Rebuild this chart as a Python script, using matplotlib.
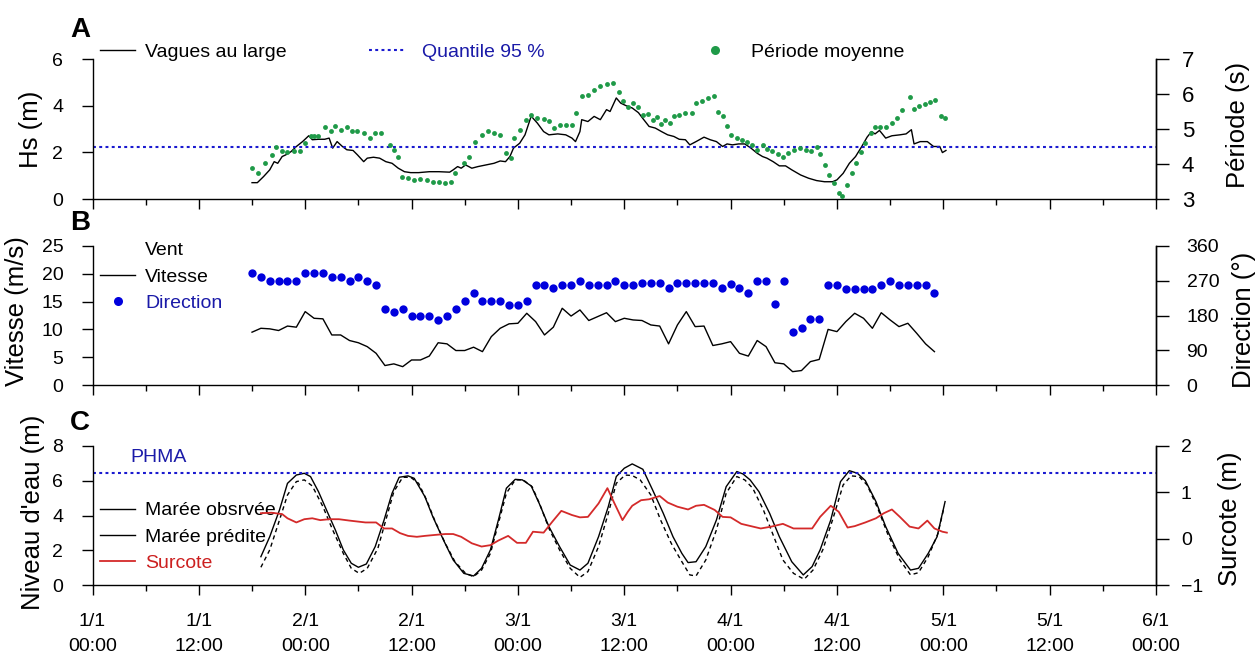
import matplotlib
matplotlib.use("Agg")
import numpy as np
import matplotlib.pyplot as plt
from matplotlib.lines import Line2D
from matplotlib.ticker import MultipleLocator

plt.rcParams['font.family'] = ['Liberation Sans', 'DejaVu Sans']

# ==========================================
# DATA (hours since 1/1 00:00)
# ==========================================
hs_hours = [18.0, 18.6, 19.3, 20.0, 20.5, 20.9, 21.4, 21.8, 22.4, 23.0, 23.7, 24.4, 24.8, 25.5,
            26.2, 26.7, 27.1, 27.6, 28.2, 28.7, 29.4, 29.9, 30.6, 31.0, 31.7, 32.4, 33.1, 33.8,
            34.5, 35.2, 35.9, 36.8, 38.0, 39.1, 40.3, 40.7, 41.2, 41.6, 42.1, 42.8, 43.5, 44.4,
            45.3, 46.0, 46.6, 47.1, 47.5, 48.2, 48.8, 49.5, 50.2, 50.9, 51.5, 52.5, 53.4, 54.1,
            54.5, 55.0, 55.2, 55.9, 56.6, 57.3, 58.0, 58.4, 59.1, 59.6, 60.2, 60.9, 61.6, 62.1,
            62.8, 63.5, 64.2, 64.9, 65.6, 66.2, 66.9, 67.4, 68.1, 69.0, 69.7, 70.4, 71.1, 71.6,
            72.2, 72.9, 73.6, 74.3, 75.0, 75.6, 76.1, 76.8, 77.5, 78.2, 78.9, 79.9, 80.8, 81.7,
            82.6, 83.5, 84.0, 84.7, 85.4, 86.1, 86.8, 87.4, 87.9, 88.3, 88.8, 89.5, 90.2, 91.1,
            91.8, 92.4, 92.7, 93.4, 94.2, 94.9, 95.6, 95.9, 96.3]
hs_values = [0.70, 0.70, 0.96, 1.25, 1.60, 1.53, 1.82, 1.89, 2.03, 2.25, 2.46, 2.71, 2.54, 2.56,
             2.56, 2.61, 2.18, 2.46, 2.25, 2.11, 2.08, 1.89, 1.60, 1.75, 1.79, 1.75, 1.60, 1.53,
             1.32, 1.17, 1.13, 1.13, 1.17, 1.17, 1.15, 1.25, 1.39, 1.32, 1.46, 1.32, 1.39, 1.46,
             1.53, 1.63, 1.60, 1.82, 2.18, 2.39, 2.75, 3.55, 3.25, 2.89, 2.75, 2.79, 2.75, 2.61,
             2.46, 2.89, 3.40, 3.32, 3.54, 3.40, 3.83, 3.75, 4.33, 4.11, 4.00, 3.90, 3.70, 3.45,
             3.11, 3.04, 2.89, 2.75, 2.68, 2.56, 2.54, 2.32, 2.46, 2.65, 2.54, 2.46, 2.25, 2.36,
             2.32, 2.36, 2.36, 2.18, 1.96, 1.82, 1.75, 1.60, 1.42, 1.42, 1.25, 1.03, 0.89, 0.79,
             0.74, 0.74, 0.82, 1.10, 1.53, 1.82, 2.25, 2.65, 2.89, 2.79, 2.94, 2.61, 2.71, 2.75,
             2.79, 2.97, 2.36, 2.46, 2.46, 2.25, 2.25, 1.99, 2.08]
hs_q95 = 2.25

period_hours = [18.0, 18.7, 19.5, 20.2, 20.7, 21.4, 22.0, 22.7, 23.4, 24.0, 24.6, 25.0, 25.5, 26.2,
                26.9, 27.4, 28.0, 28.7, 29.3, 29.9, 30.6, 31.3, 31.9, 32.6, 33.6, 34.0, 34.5, 34.9,
                35.6, 36.3, 37.0, 37.7, 38.4, 39.1, 39.8, 40.5, 40.9, 41.9, 42.5, 43.2, 43.9, 44.6,
                45.3, 46.0, 46.7, 47.2, 47.6, 48.2, 48.9, 49.5, 50.2, 50.9, 51.5, 52.1, 52.7, 53.4,
                54.1, 54.5, 55.2, 55.9, 56.6, 57.3, 58.0, 58.7, 59.4, 59.9, 60.4, 61.0, 61.6, 62.1,
                62.7, 63.2, 63.7, 64.1, 64.6, 65.2, 65.6, 66.2, 66.9, 67.6, 68.1, 68.8, 69.5, 70.1,
                70.6, 71.1, 71.6, 72.1, 72.7, 73.3, 73.8, 74.4, 75.0, 75.6, 76.1, 76.7, 77.3, 77.9,
                78.5, 79.1, 79.8, 80.5, 81.1, 81.7, 82.1, 82.6, 83.1, 83.7, 84.2, 84.6, 85.1, 85.7,
                86.2, 86.7, 87.2, 87.8, 88.3, 88.9, 89.5, 90.2, 90.8, 91.3, 92.2, 92.7, 93.3, 93.9,
                94.5, 95.1, 95.7, 96.2]
period_values = [3.88, 3.75, 4.02, 4.26, 4.50, 4.36, 4.33, 4.36, 4.36, 4.60, 4.79, 4.80, 4.79, 5.07,
                 4.93, 5.09, 4.98, 5.05, 4.93, 4.95, 4.88, 4.74, 4.88, 4.90, 4.55, 4.40, 4.19, 3.64,
                 3.59, 3.54, 3.57, 3.54, 3.50, 3.48, 3.47, 3.50, 3.74, 4.02, 4.21, 4.64, 4.83, 4.93,
                 4.88, 4.83, 4.31, 4.16, 4.74, 4.98, 5.26, 5.41, 5.31, 5.28, 5.24, 5.02, 5.12, 5.12,
                 5.12, 5.45, 5.93, 5.98, 6.12, 6.24, 6.29, 6.31, 6.05, 5.79, 5.64, 5.74, 5.63, 5.41,
                 5.42, 5.26, 5.34, 5.15, 5.26, 5.17, 5.38, 5.41, 5.45, 5.45, 5.74, 5.79, 5.88, 5.93,
                 5.50, 5.36, 5.09, 4.83, 4.74, 4.69, 4.64, 4.55, 4.40, 4.55, 4.42, 4.36, 4.29, 4.21,
                 4.31, 4.40, 4.45, 4.40, 4.36, 4.50, 4.29, 3.97, 3.69, 3.47, 3.18, 3.09, 3.40, 3.74,
                 4.02, 4.33, 4.59, 4.88, 5.05, 5.07, 5.07, 5.17, 5.31, 5.55, 5.91, 5.57, 5.66, 5.72,
                 5.76, 5.82, 5.36, 5.31]

wind_hours = np.arange(18, 96)
wind_speed = [9.5, 10.2, 10.1, 9.8, 10.6, 10.4, 13.2, 12.0, 11.9, 9.0, 9.0, 8.0, 7.6, 6.9,
              5.7, 3.5, 3.8, 3.3, 4.5, 4.5, 5.2, 7.6, 7.4, 6.2, 6.2, 6.8, 6.0, 8.7,
              10.2, 11.0, 11.1, 12.9, 11.4, 9.0, 10.4, 13.8, 12.4, 13.5, 11.6, 12.3, 13.0, 11.4,
              12.0, 11.7, 11.6, 10.8, 10.6, 7.4, 10.8, 13.2, 10.5, 10.6, 7.1, 7.4, 7.8, 5.7,
              5.2, 8.0, 6.9, 4.0, 3.8, 2.4, 2.6, 4.2, 4.6, 10.0, 9.6, 11.4, 12.9, 12.0,
              10.2, 13.0, 11.7, 10.5, 11.1, 9.3, 7.4, 6.0]
wind_dir = [289, 280, 269, 269, 269, 269, 291, 291, 291, 280, 280, 270, 280, 269,
            259, 198, 188, 198, 179, 179, 179, 168, 179, 198, 218, 239, 218, 218,
            218, 207, 207, 218, 259, 259, 250, 259, 259, 269, 259, 259, 259, 269,
            259, 259, 263, 263, 263, 250, 263, 263, 263, 263, 263, 250, 261, 250,
            239, 269, 269, 209, 269, 138, 148, 170, 170, 259, 259, 248, 248, 248,
            248, 259, 269, 259, 259, 259, 259, 239]

obs_hours = [19.0, 20.0, 21.1, 22.0, 23.0, 23.9, 24.6, 25.5, 26.4, 27.4, 28.3, 29.2, 30.0, 30.9,
             31.9, 32.9, 33.8, 34.6, 35.6, 36.3, 37.5, 38.4, 39.6, 40.7, 41.9, 43.0, 43.9, 44.9,
             45.8, 46.7, 47.7, 48.5, 49.5, 50.4, 51.5, 52.7, 53.9, 55.0, 55.9, 57.1, 58.2, 59.1,
             60.0, 60.9, 62.1, 63.2, 64.4, 65.5, 66.5, 67.2, 68.1, 69.2, 70.4, 71.5, 72.7, 73.4,
             74.2, 75.2, 76.4, 77.5, 78.9, 80.2, 81.2, 82.1, 83.3, 84.4, 85.4, 86.3, 87.2, 88.4,
             89.5, 90.9, 92.3, 93.2, 94.3, 95.3, 96.2]
obs_tide = [1.63, 2.78, 4.32, 5.85, 6.33, 6.43, 6.24, 5.37, 4.32, 3.17, 2.02, 1.25, 1.02, 1.21,
            2.21, 3.74, 5.28, 6.20, 6.28, 6.14, 5.09, 3.93, 2.59, 1.44, 0.67, 0.52, 0.96, 2.02,
            3.74, 5.57, 6.08, 6.05, 5.70, 4.70, 3.36, 2.21, 1.15, 0.86, 1.25, 2.78, 4.51, 6.24,
            6.72, 6.97, 6.66, 5.47, 4.13, 2.78, 1.82, 1.29, 1.34, 2.21, 3.74, 5.66, 6.53, 6.39,
            6.05, 5.37, 4.13, 2.78, 1.34, 0.58, 1.06, 2.02, 3.74, 5.95, 6.58, 6.43, 6.01, 4.80,
            3.36, 1.82, 0.86, 0.96, 1.82, 2.78, 4.80]

pred_hours = [19.0, 20.0, 21.1, 22.0, 23.0, 23.9, 24.8, 26.0, 27.1, 28.3, 29.2, 30.1, 31.0, 32.2,
              33.1, 34.0, 35.0, 35.9, 36.8, 37.7, 38.6, 39.8, 40.9, 42.1, 43.0, 43.9, 44.9, 45.8,
              46.7, 47.7, 48.6, 49.6, 50.5, 51.5, 52.7, 53.9, 55.0, 55.9, 57.1, 58.2, 59.1, 60.1,
              60.9, 61.8, 63.0, 64.1, 65.3, 66.5, 67.4, 68.1, 69.2, 70.4, 71.5, 72.7, 73.6, 74.5,
              75.7, 76.8, 77.9, 79.1, 80.3, 81.3, 82.4, 83.5, 84.7, 85.6, 86.5, 87.4, 88.6, 89.7,
              91.1, 92.3, 93.2, 94.3, 95.4, 96.1]
pred_tide = [1.02, 2.02, 3.74, 5.18, 5.95, 6.05, 5.70, 4.51, 3.17, 1.82, 0.96, 0.67, 0.96, 2.11,
             3.74, 5.37, 6.20, 6.20, 5.85, 4.89, 3.74, 2.40, 1.34, 0.67, 0.48, 0.86, 1.82, 3.55,
             5.28, 6.05, 6.05, 5.66, 4.61, 3.26, 2.02, 0.96, 0.44, 0.77, 2.21, 4.13, 5.85, 6.33,
             6.30, 6.05, 5.18, 3.74, 2.40, 1.34, 0.58, 0.52, 1.44, 3.17, 5.28, 6.24, 6.05, 5.57,
             4.32, 2.88, 1.44, 0.67, 0.33, 0.86, 2.02, 3.74, 5.76, 6.28, 6.24, 5.76, 4.42, 2.97,
             1.44, 0.58, 0.71, 1.63, 2.97, 4.51]

surge_hours = [19.0, 20.2, 21.4, 22.0, 23.0, 23.9, 24.8, 25.7, 26.7, 27.8, 29.0, 29.9, 30.8, 32.0,
               32.9, 33.8, 34.7, 35.6, 36.6, 37.5, 38.6, 39.8, 40.7, 41.6, 42.8, 43.9, 44.9, 45.8,
               46.9, 47.9, 48.9, 49.7, 50.9, 51.9, 52.9, 54.1, 55.0, 55.9, 57.1, 58.1, 58.9, 59.8,
               60.4, 60.9, 61.9, 62.8, 64.0, 64.9, 66.0, 67.2, 68.1, 69.0, 70.2, 71.1, 72.0, 73.2,
               74.3, 75.4, 76.6, 77.9, 79.1, 80.2, 81.2, 82.1, 83.3, 84.2, 85.2, 86.0, 87.2, 88.4,
               89.3, 90.2, 91.1, 92.2, 93.2, 94.2, 95.0, 95.9, 96.4]
surge = [0.55, 0.56, 0.53, 0.44, 0.35, 0.42, 0.44, 0.40, 0.42, 0.42, 0.39, 0.37, 0.35, 0.35,
         0.22, 0.22, 0.12, 0.06, 0.04, 0.06, 0.08, 0.10, 0.10, 0.04, -0.10, -0.17, -0.14, -0.04,
         0.06, -0.09, -0.09, 0.15, 0.13, 0.37, 0.60, 0.51, 0.46, 0.47, 0.76, 1.09, 0.76, 0.40,
         0.58, 0.71, 0.83, 0.85, 0.92, 0.78, 0.69, 0.63, 0.71, 0.73, 0.62, 0.47, 0.46, 0.32,
         0.27, 0.22, 0.26, 0.32, 0.22, 0.22, 0.22, 0.47, 0.71, 0.58, 0.24, 0.27, 0.35, 0.44,
         0.55, 0.63, 0.47, 0.26, 0.22, 0.39, 0.22, 0.15, 0.13]
phma = 6.45

xtick_labels = ['1/1\n00:00', '1/1\n12:00', '2/1\n00:00', '2/1\n12:00', '3/1\n00:00', '3/1\n12:00',
                '4/1\n00:00', '4/1\n12:00', '5/1\n00:00', '5/1\n12:00', '6/1\n00:00']

# ==========================================
# COLOURS / LAYOUT
# ==========================================
GREEN = '#1f9a48'
BLUE_DOT = '#0000dd'
BLUE_LINE = '#1a1ad0'
BLUE_TEXT = '#1a1aa8'
RED = '#d42a2a'

W, H = 1258, 656
fig = plt.figure(figsize=(W / 100, H / 100), dpi=100)


def box(top, bottom):
    return [92.5 / W, 1 - bottom / H, (1156 - 92.5) / W, (bottom - top) / H]


def fxy(px, py):
    return (px / W, 1 - py / H)


def style(ax, ax2, right_size, right_pad):
    ax.set_xlim(0, 120)
    ax.xaxis.set_major_locator(MultipleLocator(12))
    ax.xaxis.set_minor_locator(MultipleLocator(6))
    ax.tick_params(axis='x', which='major', direction='out', length=7.5, width=1, labelsize=14, pad=13)
    ax.tick_params(axis='x', which='minor', direction='out', length=4.2, width=1)
    ax.tick_params(axis='y', direction='out', length=8, width=1, labelsize=14, pad=13)
    ax2.tick_params(axis='y', direction='out', length=9, width=1, labelsize=right_size, pad=right_pad)
    ax.spines['top'].set_visible(False)
    for s in ['top', 'left', 'bottom']:
        ax2.spines[s].set_visible(False)
    for s in ax.spines.values():
        s.set_linewidth(1)
    ax2.spines['right'].set_linewidth(1)


FS = 14
FS_PX = FS * 100 / 72

# ==========================================
# PANEL A - WAVES
# ==========================================
axA = fig.add_axes(box(59, 199))
axA2 = axA.twinx()
axA.plot(hs_hours, hs_values, color='black', lw=1.0)
axA.axhline(hs_q95, color=BLUE_LINE, lw=1.5, ls=(0, (1.4, 1.6)))
axA2.plot(period_hours, period_values, ls='none', marker='o', ms=3.5, color=GREEN, mec='none', clip_on=False)
axA.set_ylim(0, 6)
axA.set_yticks([0, 2, 4, 6])
axA2.set_ylim(3, 7)
axA2.set_yticks([3, 4, 5, 6, 7])
style(axA, axA2, 16, 9.5)
axA.tick_params(axis='x', labelbottom=False)
axA.set_ylabel('Hs (m)', fontsize=18.5)
axA.yaxis.set_label_coords(-0.0465, 0.5)
axA2.set_ylabel('Période (s)', fontsize=18.5)
axA2.yaxis.set_label_coords(1.0658, 0.53)

leg = axA.legend([Line2D([], [], color='black', lw=1.0)], ['Vagues au large'],
                 loc='center left', bbox_to_anchor=fxy(100, 52), bbox_transform=fig.transFigure,
                 frameon=False, borderpad=0, borderaxespad=0, fontsize=FS,
                 handlelength=35 / FS_PX, handletextpad=10 / FS_PX)
axA.add_artist(leg)
leg = axA.legend([Line2D([], [], color=BLUE_LINE, lw=1.5, ls=(0, (1.4, 1.6)))], ['Quantile 95 %'],
                 loc='center left', bbox_to_anchor=fxy(369, 52), bbox_transform=fig.transFigure,
                 frameon=False, borderpad=0, borderaxespad=0, fontsize=FS, labelcolor=BLUE_TEXT,
                 handlelength=35 / FS_PX, handletextpad=18 / FS_PX)
axA.add_artist(leg)
axA.legend([Line2D([], [], ls='none', marker='o', ms=6.5, color=GREEN, mec='none')], ['Période moyenne'],
           loc='center left', bbox_to_anchor=fxy(697.5, 52), bbox_transform=fig.transFigure,
           frameon=False, borderpad=0, borderaxespad=0, fontsize=FS,
           handlelength=35 / FS_PX, handletextpad=18.5 / FS_PX)

# ==========================================
# PANEL B - WIND
# ==========================================
axB = fig.add_axes(box(246, 385))
axB2 = axB.twinx()
axB.plot(wind_hours, wind_speed, color='black', lw=1.0)
axB2.plot(wind_hours, wind_dir, ls='none', marker='o', ms=6, color=BLUE_DOT, mec='none', clip_on=False)
axB.set_ylim(0, 25)
axB.set_yticks([0, 5, 10, 15, 20, 25])
axB2.set_ylim(0, 360)
axB2.set_yticks([0, 90, 180, 270, 360])
style(axB, axB2, 14, 13)
axB.tick_params(axis='x', labelbottom=False)
axB.set_ylabel('Vitesse (m/s)', fontsize=18.5)
axB.yaxis.set_label_coords(-0.060, 0.53)
axB2.set_ylabel('Direction (°)', fontsize=18.5)
axB2.yaxis.set_label_coords(1.0714, 0.47)

axB.legend([Line2D([], [], color='none'),
            Line2D([], [], color='black', lw=1.0),
            Line2D([], [], ls='none', marker='o', ms=6.5, color=BLUE_DOT, mec='none')],
           ['Vent', 'Vitesse', 'Direction'],
           loc='center left', bbox_to_anchor=fxy(100, 277), bbox_transform=fig.transFigure,
           frameon=False, borderpad=0, borderaxespad=0, fontsize=FS, labelspacing=0.45,
           labelcolor=['black', 'black', BLUE_TEXT],
           handlelength=35 / FS_PX, handletextpad=10 / FS_PX)

# ==========================================
# PANEL C - WATER LEVEL
# ==========================================
axC = fig.add_axes(box(446, 585))
axC2 = axC.twinx()
axC.plot(obs_hours, obs_tide, color='black', lw=1.0)
axC.plot(pred_hours, pred_tide, color='black', lw=1.0, ls=(0, (3, 2.5)))
axC.axhline(phma, color=BLUE_LINE, lw=1.5, ls=(0, (1.4, 1.6)))
axC2.plot(surge_hours, surge, color=RED, lw=1.3)
axC.set_ylim(0, 8)
axC.set_yticks([0, 2, 4, 6, 8])
axC2.set_ylim(-1, 2)
axC2.set_yticks([-1, 0, 1, 2])
style(axC, axC2, 14, 9)
axC.set_xticks(np.arange(0, 121, 12))
axC.set_xticklabels(xtick_labels, linespacing=1.55)
axC.set_ylabel("Niveau d'eau (m)", fontsize=18.5)
axC.yaxis.set_label_coords(-0.0447, 0.525)
axC2.set_ylabel('Surcote (m)', fontsize=18.5)
axC2.yaxis.set_label_coords(1.0583, 0.48)
fig.text(*fxy(130, 457), 'PHMA', fontsize=FS, color=BLUE_TEXT, va='center', ha='left')

axC.legend([Line2D([], [], color='black', lw=1.0),
            Line2D([], [], color='black', lw=1.0),
            Line2D([], [], color=RED, lw=1.3)],
           ['Marée obsrvée', 'Marée prédite', 'Surcote'],
           loc='center left', bbox_to_anchor=fxy(100, 537), bbox_transform=fig.transFigure,
           frameon=False, borderpad=0, borderaxespad=0, fontsize=FS, labelspacing=0.45,
           labelcolor=['black', 'black', '#cc2020'],
           handlelength=35 / FS_PX, handletextpad=10 / FS_PX)

# ==========================================
# PANEL LETTERS
# ==========================================
for letter, y in [('A', 30), ('B', 223), ('C', 423)]:
    fig.text(*fxy(70, y), letter, fontsize=20, fontweight='bold', va='center', ha='left')

fig.savefig('out.png', dpi=100)
